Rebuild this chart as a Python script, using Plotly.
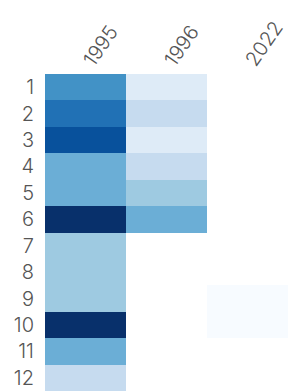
import plotly.graph_objects as go

years = ["1995", "1996", "2022"]
rows = [str(i) for i in range(1, 13)]
# ordinal levels 0..8 (Blues bins); None = empty
v1995 = [5, 6, 7, 4, 4, 8, 3, 3, 3, 8, 4, 2]
v1996 = [1, 2, 1, 2, 3, 4, None, None, None, None, None, None]
v2022 = [None, None, None, None, None, None, None, None, 0, 0, None, None]

blues = ["#f7fbff", "#deebf7", "#c6dbef", "#9ecae1", "#6baed6",
         "#4292c6", "#2171b5", "#08519c", "#08306b"]

z = [[v1995[i], v1996[i], v2022[i]] for i in range(len(rows))]

fig = go.Figure(go.Heatmap(
    x=years, y=rows, z=z,
    zmin=0, zmax=8,
    colorscale=[[i / 8, c] for i, c in enumerate(blues)],
    showscale=False, hoverongaps=False,
))

fig.update_layout(
    width=288, height=391,
    margin=dict(l=45, r=0, t=74, b=0),
    paper_bgcolor="white", plot_bgcolor="white",
    font=dict(family="Inter", size=20, color="#555555", weight=300),
)
fig.update_xaxes(side="top", tickangle=-55, showgrid=False, zeroline=False,
                 ticks="", type="category", automargin=False,
                 ticklabelstandoff=-3)
fig.update_yaxes(autorange="reversed", showgrid=False, zeroline=False,
                 ticks="", type="category", automargin=False,
                 ticklabelstandoff=10)

fig.write_html(
    "out.html",
    config={"displayModeBar": False},
    post_script="document.body.style.margin='0';document.body.style.overflow='hidden';",
)
